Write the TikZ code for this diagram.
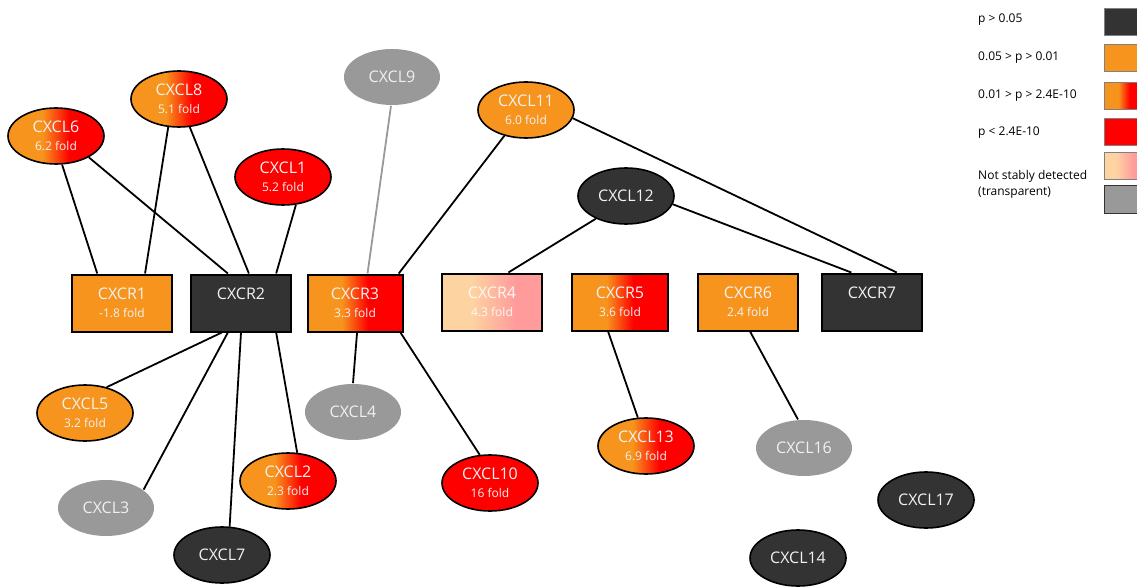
\documentclass[tikz,border=0pt]{standalone}
\usepackage{fontspec}
\setmainfont{Open Sans}
\usetikzlibrary{shapes.geometric}

\definecolor{darkgene}{HTML}{333333}
\definecolor{orng}{HTML}{F7941D}
\definecolor{hired}{HTML}{FF0000}
\definecolor{greygene}{HTML}{999999}
\definecolor{peach}{HTML}{FDD3A2}
\definecolor{pinkish}{HTML}{FF9B9B}
\pgfdeclarehorizontalshading{orangered}{100bp}{color(0bp)=(orng); color(43bp)=(orng); color(57bp)=(hired); color(100bp)=(hired)}
\pgfdeclarehorizontalshading{peachpink}{100bp}{color(0bp)=(peach); color(40bp)=(peach); color(62bp)=(pinkish); color(100bp)=(pinkish)}

\newcommand{\namefont}{\fontsize{16}{18}\selectfont}
\newcommand{\foldtxt}[1]{{\fontsize{12}{13}\selectfont #1 fold}}

\tikzset{
	lig/.style={ellipse, draw=black, line width=1.6pt, minimum width=96pt, minimum height=56pt, inner sep=0pt, align=center, text=white!95!black, font=\namefont},
	rec/.style={rectangle, draw=black, line width=2pt, minimum width=100pt, minimum height=57pt, inner sep=0pt, align=center, text=white!95!black, font=\namefont},
	nosig/.style={fill=darkgene},
	mild/.style={fill=orng},
	graded/.style={shading=orangered},
	strong/.style={fill=hired},
	faint/.style={shading=peachpink, text=white!85!peach},
	absent/.style={fill=greygene, draw=none, text=white!85!greygene},
	link/.style={line width=1.8pt, black},
	greylink/.style={line width=1.8pt, greygene},
	keybox/.style={rectangle, draw=gray, line width=1pt, minimum width=40pt, minimum height=27pt, inner sep=0pt},
	keytext/.style={anchor=west, inner sep=0pt, font=\fontsize{12}{16}\selectfont, align=left}
}

\begin{document}
\begin{tikzpicture}[x=1pt,y=-1pt]
	\useasboundingbox (0,0) rectangle (1137,588);
	% receptors
	\node[rec, mild] (CXCR1) at (122,303) {CXCR1\\\foldtxt{-1.8}};
	\node[rec, nosig] (CXCR2) at (241,303) {CXCR2\\\phantom{\foldtxt{0}}};
	\node[rec, graded, minimum width=95pt] (CXCR3) at (355,303) {CXCR3\\\foldtxt{3.3}};
	\node[rec, faint] (CXCR4) at (492,302) {CXCR4\\\foldtxt{4.3}};
	\node[rec, graded, minimum width=96pt] (CXCR5) at (620,302) {CXCR5\\\foldtxt{3.6}};
	\node[rec, mild] (CXCR6) at (748,302) {CXCR6\\\foldtxt{2.4}};
	\node[rec, nosig] (CXCR7) at (872,302) {CXCR7\\\phantom{\foldtxt{0}}};
	% ligands, upper row
	\node[lig, graded] (CXCL6) at (56,136) {CXCL6\\\foldtxt{6.2}};
	\node[lig, graded] (CXCL8) at (179,99) {CXCL8\\\foldtxt{5.1}};
	\node[lig, strong] (CXCL1) at (283,177) {CXCL1\\\foldtxt{5.2}};
	\node[lig, absent] (CXCL9) at (392,77) {CXCL9};
	\node[lig, mild] (CXCL11) at (526,110) {CXCL11\\\foldtxt{6.0}};
	\node[lig, nosig] (CXCL12) at (626,196) {CXCL12};
	% ligands, lower row
	\node[lig, mild] (CXCL5) at (85,413) {CXCL5\\\foldtxt{3.2}};
	\node[lig, absent] (CXCL3) at (106,508) {CXCL3};
	\node[lig, nosig] (CXCL7) at (222,555) {CXCL7};
	\node[lig, graded] (CXCL2) at (288,481) {CXCL2\\\foldtxt{2.3}};
	\node[lig, absent] (CXCL4) at (353,412) {CXCL4};
	\node[lig, strong] (CXCL10) at (490,483) {CXCL10\\\foldtxt{16}};
	\node[lig, graded] (CXCL13) at (646,446) {CXCL13\\\foldtxt{6.9}};
	\node[lig, absent] (CXCL16) at (804,448) {CXCL16};
	\node[lig, nosig] (CXCL17) at (926,500) {CXCL17};
	\node[lig, nosig] (CXCL14) at (798,558) {CXCL14};
	% connections
	\draw[link] (CXCL6.-78) -- (CXCR1.130);
	\draw[link] (CXCL8.-111) -- (CXCR1.52);
	\draw[link] (CXCL6.-33) -- (CXCR2.114);
	\draw[link] (CXCL8.-69) -- (CXCR2.75);
	\draw[link] (CXCL1.-65) -- (CXCR2.40);
	\draw[greylink] (CXCL9.-92) -- (CXCR3.67);
	\draw[link] (CXCL11.-130) -- (CXCR3.34);
	\draw[link] (CXCL12.-143) -- (CXCR4.61);
	\draw[link] (CXCL12.-10) -- (CXCR7.125);
	\draw[link] (CXCL11.-10) -- (CXCR7.50);
	\draw[link] (CXCR2.-123) -- (CXCL5.50);
	\draw[link] (CXCR2.-114) -- (CXCL3.26);
	\draw[link] (CXCR2.-90) -- (CXCL7.75);
	\draw[link] (CXCR2.-40) -- (CXCL2.72);
	\draw[link] (CXCR3.-86) -- (CXCL4.90);
	\draw[link] (CXCR3.-33) -- (CXCL10.110);
	\draw[link] (CXCR5.-112) -- (CXCL13.106);
	\draw[link] (CXCR6.-86) -- (CXCL16.102);
	% legend
	\node[keytext] (t1) at (978,20) {p > 0.05};
	\node[keytext] (t2) at (978,58) {0.05 > p > 0.01};
	\node[keytext] (t3) at (978,96) {0.01 > p > 2.4E-10};
	\node[keytext] (t4) at (978,133) {p < 2.4E-10};
	\node[keytext] (t5) at (978,184) {Not stably detected\\(transparent)};
	\node[keybox, nosig] (k1) at (1124,22.5) {};
	\node[keybox, mild] (k2) at (1124,58.5) {};
	\node[keybox, graded] (k3) at (1124,96) {};
	\node[keybox, strong] (k4) at (1124,132.5) {};
	\node[keybox, shading=peachpink] (k5) at (1124,166.5) {};
	\node[keybox, fill=greygene, draw=darkgene] (k6) at (1124,199.5) {};
\end{tikzpicture}
\end{document}
